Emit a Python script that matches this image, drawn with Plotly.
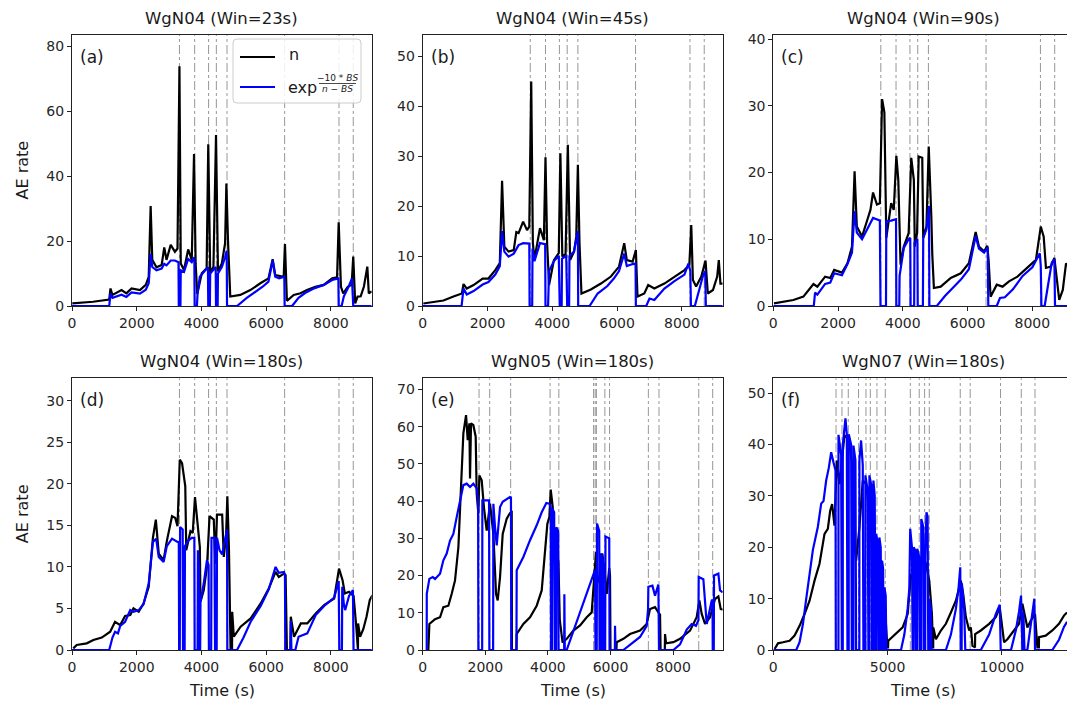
import plotly.graph_objects as go

W, H = 1067, 708

# ---------------- data ----------------
titles = ["WgN04 (Win=23s)", "WgN04 (Win=45s)", "WgN04 (Win=90s)",
          "WgN04 (Win=180s)", "WgN05 (Win=180s)", "WgN07 (Win=180s)"]
panel_tags = ["(a)", "(b)", "(c)", "(d)", "(e)", "(f)"]

x_max = [9260, 9260, 9070, 9260, 9585, 12850]
y_max = [83.4, 54.3, 40.6, 32.7, 73.0, 52.9]
y_ticks = [[0, 20, 40, 60, 80], [0, 10, 20, 30, 40, 50], [0, 10, 20, 30, 40],
           [0, 5, 10, 15, 20, 25, 30], [0, 10, 20, 30, 40, 50, 60, 70],
           [0, 10, 20, 30, 40, 50]]
x_ticks = [[0, 2000, 4000, 6000, 8000]] * 5 + [[0, 5000, 10000]]

# event times (s)
ev_wgn04 = [3320, 3790, 4220, 4460, 4790, 6570, 8250, 8690]
ev_wgn05 = [1800, 2140, 2810, 4070, 4350, 5460, 5510, 5550, 5820, 5970,
            7210, 7550, 8820, 9265]
ev_wgn07 = [2745, 3005, 3280, 3730, 4055, 4245, 4535, 4900, 5995, 6385,
            6620, 6825, 8180, 8615, 9940, 10850, 11450]

# (time, value) pairs: n series (black) and exp series (blue)
a_n = [(10, 0.8), (650, 1.3), (1150, 2.0), (1190, 5.4), (1250, 3.4), (1530, 4.9), (1680, 3.9),
       (1840, 5.4), (2100, 4.9), (2280, 6.5), (2370, 9.0), (2430, 30.8), (2480, 14.2), (2610, 11.9),
       (2770, 12.6), (2850, 18.0), (2920, 14.2), (3050, 18.8), (3180, 16.7), (3260, 17.7),
       (3320, 73.8), (3360, 13.1), (3460, 11.1), (3590, 17.4), (3700, 14.2), (3770, 46.8),
       (3820, 13.1), (3870, 3.7), (4010, 10.1), (4160, 11.6), (4210, 49.8), (4270, 10.1),
       (4370, 12.1), (4450, 52.6), (4510, 10.6), (4630, 13.1), (4730, 19.3), (4770, 37.7),
       (4820, 20.1), (4890, 2.9), (5200, 3.4), (5510, 4.9), (5820, 7.0), (6070, 8.5), (6200, 14.4),
       (6280, 9.5), (6540, 9.0), (6580, 19.1), (6640, 1.6), (6850, 3.4), (7060, 3.9), (7260, 4.9),
       (7520, 5.9), (7780, 6.5), (8040, 8.5), (8190, 8.8), (8240, 25.8), (8310, 5.9), (8380, 3.9),
       (8520, 5.9), (8640, 6.5), (8690, 15.2), (8750, 0.8), (8825, 2.9), (8920, 3.0), (9020, 6.0),
       (9125, 12.1), (9170, 3.9), (9260, 4.5)]
a_b = [(0, 0), (1150, 0), (1190, 3.9), (1250, 2.5), (1530, 3.5), (1680, 2.8), (1840, 4.2), (2100, 3.8),
       (2280, 5.0), (2370, 7.0), (2430, 16.0), (2480, 12.0), (2610, 11.0), (2770, 11.5), (2850, 13.0),
       (2920, 12.5), (3050, 14.0), (3180, 14.0), (3290, 13.5), (3300, 0), (3350, 0), (3360, 11.0),
       (3460, 10.5), (3590, 14.5), (3700, 13.5), (3780, 15.0), (3790, 0), (3860, 0), (3880, 4.0),
       (3950, 9.0), (4160, 11.5), (4200, 12.0), (4210, 0), (4260, 0), (4270, 10.0), (4370, 11.0),
       (4440, 12.0), (4450, 0), (4500, 0), (4510, 10.0), (4630, 12.0), (4730, 15.0), (4780, 17.0),
       (4790, 0), (5100, 0), (5400, 2.5), (5700, 4.5), (5900, 6.0), (6070, 7.5), (6200, 14.0),
       (6280, 9.0), (6400, 8.5), (6560, 9.0), (6570, 0), (6800, 0), (7000, 2.5), (7200, 4.0),
       (7500, 5.5), (7780, 6.5), (8040, 8.0), (8230, 8.5), (8240, 0), (8330, 0), (8400, 3.0),
       (8550, 6.0), (8650, 8.5), (8690, 0), (9260, 0)]

b_n = [(20, 0.5), (640, 1.1), (950, 1.9), (1210, 2.5), (1260, 4.4), (1360, 3.5), (1570, 4.2),
       (1850, 5.5), (2030, 5.5), (2240, 7.2), (2380, 8.6), (2450, 25.1), (2520, 11.9), (2650, 10.9),
       (2810, 11.2), (2890, 14.8), (2960, 14.6), (3100, 16.9), (3220, 15.2), (3290, 15.9),
       (3350, 45.0), (3400, 12.6), (3450, 9.4), (3620, 15.6), (3740, 13.2), (3790, 29.8),
       (3840, 12.6), (3900, 4.2), (4050, 9.2), (4200, 10.6), (4250, 30.6), (4310, 9.9), (4410, 10.4),
       (4480, 32.3), (4550, 9.2), (4670, 10.9), (4740, 13.9), (4790, 28.3), (4840, 12.6), (4900, 2.5),
       (5190, 3.3), (5500, 4.5), (5810, 5.9), (6060, 7.9), (6220, 12.6), (6300, 9.2), (6480, 8.9),
       (6580, 11.2), (6630, 1.9), (6840, 2.5), (6960, 4.2), (7150, 3.5), (7460, 4.5), (7770, 5.9),
       (8080, 7.2), (8230, 8.2), (8290, 16.2), (8340, 5.2), (8440, 3.9), (8600, 5.9), (8730, 9.1),
       (8800, 2.5), (8960, 3.2), (9090, 5.9), (9140, 9.2), (9190, 4.5), (9260, 4.5)]
b_b = [(0, 0), (1200, 0), (1260, 3.5), (1360, 2.3), (1570, 3.0), (1850, 4.3), (2030, 4.8), (2240, 6.3),
       (2380, 8.0), (2450, 15.0), (2520, 10.9), (2650, 9.9), (2810, 10.5), (2960, 12.2), (3100, 12.6),
       (3290, 12.5), (3300, 0), (3380, 0), (3390, 11.5), (3450, 9.0), (3620, 12.6), (3780, 12.4),
       (3790, 0), (3870, 0), (3900, 7.0), (4050, 9.0), (4200, 10.0), (4230, 0), (4290, 0), (4300, 9.5),
       (4430, 10.0), (4460, 0), (4520, 0), (4530, 10.0), (4670, 10.9), (4790, 15.0), (4800, 0),
       (5150, 0), (5400, 2.5), (5700, 4.0), (5900, 5.5), (6060, 7.0), (6220, 10.5), (6300, 8.0),
       (6480, 8.4), (6570, 8.5), (6580, 0), (6900, 0), (7000, 1.5), (7150, 1.2), (7460, 3.5),
       (7770, 5.0), (8080, 6.3), (8200, 8.5), (8260, 7.0), (8280, 0), (8400, 0), (8500, 2.5),
       (8650, 6.0), (8720, 7.0), (8740, 0), (9260, 0)]

c_n = [(20, 0.4), (620, 0.9), (930, 1.4), (1240, 3.3), (1360, 2.9), (1600, 4.4), (1760, 4.2),
       (1880, 5.4), (2120, 5.0), (2290, 6.4), (2430, 8.9), (2510, 20.2), (2580, 11.9), (2740, 10.4),
       (2890, 12.7), (3000, 14.4), (3080, 17.0), (3200, 15.2), (3290, 15.4), (3360, 31.0),
       (3430, 29.0), (3490, 10.2), (3640, 15.4), (3720, 14.4), (3800, 22.5), (3860, 18.9),
       (3930, 6.2), (4030, 8.9), (4180, 10.9), (4260, 22.2), (4340, 18.9), (4370, 8.9), (4440, 10.9),
       (4490, 22.4), (4600, 22.2), (4630, 10.2), (4730, 11.9), (4800, 23.9), (4880, 13.4),
       (4910, 7.7), (4960, 2.7), (5170, 2.9), (5480, 4.2), (5790, 4.9), (6040, 6.4), (6250, 11.1),
       (6350, 8.9), (6510, 8.2), (6610, 9.0), (6650, 6.8), (6710, 1.4), (6900, 3.2), (7080, 2.9),
       (7280, 3.7), (7540, 4.4), (7850, 5.7), (8110, 6.9), (8260, 11.9), (8350, 10.4), (8420, 5.7),
       (8570, 5.9), (8680, 7.2), (8760, 3.9), (8830, 0.9), (8940, 2.4), (9040, 6.4), (9100, 6.0)]
c_b = [(0, 0), (1250, 0), (1290, 2.0), (1360, 1.7), (1600, 3.3), (1760, 3.5), (1880, 4.9), (2120, 4.6),
       (2290, 6.3), (2430, 8.0), (2510, 14.2), (2580, 11.0), (2740, 10.0), (2890, 11.5), (3080, 13.2),
       (3290, 12.8), (3310, 0), (3480, 0), (3490, 12.7), (3640, 12.8), (3790, 13.0), (3800, 0),
       (3890, 0), (3900, 4.5), (4030, 8.7), (4180, 10.0), (4230, 10.2), (4240, 0), (4350, 0),
       (4360, 9.5), (4450, 10.0), (4460, 0), (4620, 0), (4630, 10.2), (4730, 11.5), (4810, 15.0),
       (4820, 0), (5050, 0), (5300, 1.5), (5600, 3.0), (5800, 4.0), (6040, 5.5), (6250, 10.5),
       (6350, 8.6), (6510, 8.0), (6620, 8.8), (6640, 0), (6900, 0), (7000, 1.2), (7150, 1.3),
       (7400, 2.5), (7700, 4.5), (8000, 5.8), (8230, 7.9), (8260, 6.0), (8280, 0), (8380, 0),
       (8480, 3.0), (8600, 6.5), (8680, 7.0), (8700, 0), (9100, 0)]

d_n = [(40, 0.2), (145, 0.6), (455, 0.8), (660, 1.2), (920, 1.5), (1180, 2.2), (1330, 3.4), (1490, 3.0),
       (1640, 4.1), (1800, 4.2), (1900, 5.0), (2060, 4.6), (2210, 5.6), (2370, 7.6), (2500, 13.5),
       (2590, 15.7), (2680, 11.6), (2830, 10.8), (2930, 13.1), (3090, 16.1), (3190, 15.9),
       (3260, 14.9), (3330, 22.9), (3400, 22.5), (3500, 19.7), (3530, 12.0), (3660, 14.3),
       (3730, 14.1), (3800, 18.4), (3880, 14.9), (3950, 12.4), (3970, 5.8), (4070, 7.2),
       (4170, 10.0), (4250, 16.1), (4380, 15.7), (4430, 10.4), (4480, 16.3), (4640, 16.3),
       (4690, 11.2), (4760, 13.7), (4800, 18.5), (4850, 12.0), (4900, 0), (4945, 0), (4950, 4.6),
       (5000, 1.6), (5210, 2.8), (5520, 3.8), (5830, 5.6), (6080, 7.4), (6290, 9.4), (6390, 8.8),
       (6550, 9.2), (6600, 9.0), (6640, 0), (6750, 0), (6760, 4.0), (6860, 1.6), (7070, 3.2),
       (7270, 3.2), (7530, 4.4), (7790, 5.4), (8100, 6.2), (8250, 9.8), (8360, 8.4), (8430, 6.8),
       (8560, 7.0), (8700, 6.5), (8780, 3.0), (8820, 0), (8835, 0), (8840, 3.2), (8900, 1.6),
       (9000, 2.5), (9100, 4.0), (9200, 6.0), (9280, 6.6)]
d_b = [(0, 0), (1150, 0), (1250, 1.5), (1330, 2.2), (1420, 2.0), (1490, 2.9), (1640, 3.4), (1800, 4.8),
       (1900, 4.6), (2060, 4.8), (2210, 5.5), (2370, 8.0), (2500, 13.0), (2600, 13.4), (2680, 11.2),
       (2830, 10.6), (2930, 12.5), (3090, 13.4), (3260, 13.0), (3300, 13.0), (3310, 0), (3330, 0),
       (3340, 14.8), (3420, 14.5), (3430, 0), (3480, 0), (3490, 12.5), (3600, 13.2), (3700, 13.5),
       (3780, 13.5), (3790, 0), (3880, 0), (3890, 12.0), (3920, 10.0), (3940, 0), (3960, 0),
       (3970, 5.8), (4070, 8.0), (4170, 10.8), (4220, 10.2), (4230, 0), (4300, 0), (4310, 13.5),
       (4400, 13.5), (4420, 0), (4470, 0), (4480, 13.5), (4560, 12.0), (4640, 11.5), (4760, 14.3),
       (4790, 14.5), (4800, 0), (5100, 0), (5300, 1.5), (5520, 3.4), (5830, 5.3), (6080, 7.3),
       (6290, 10.0), (6390, 9.3), (6550, 9.4), (6580, 9.0), (6590, 0), (6750, 0), (6760, 3.5),
       (6780, 0), (6900, 0), (7000, 1.6), (7270, 2.0), (7530, 4.2), (7790, 5.3), (8100, 6.3),
       (8240, 8.3), (8260, 0), (8340, 0), (8350, 7.6), (8400, 5.5), (8440, 4.8), (8560, 6.5),
       (8680, 7.2), (8700, 0), (9280, 0)]

e_n = [(180, 0), (213, 7.0), (394, 8.3), (554, 8.8), (660, 11.5), (820, 11.9), (927, 15.1),
       (1033, 18.7), (1140, 27.6), (1214, 42.9), (1299, 58.2), (1385, 63.1), (1438, 56.4),
       (1491, 60.9), (1512, 46.1), (1544, 60.9), (1619, 60.4), (1693, 57.3), (1725, 42.0),
       (1779, 36.6), (1811, 46.9), (1885, 45.6), (1960, 38.0), (2045, 32.1), (2151, 39.3),
       (2258, 31.2), (2343, 15.1), (2396, 13.3), (2471, 19.6), (2556, 31.2), (2684, 35.3),
       (2790, 36.8), (2844, 37.0), (2850, 0), (2995, 0), (3003, 4.3), (3216, 7.0), (3429, 8.8),
       (3642, 11.9), (3802, 16.0), (3909, 27.6), (3983, 33.9), (4047, 35.7), (4090, 43.1),
       (4154, 38.4), (4207, 24.1), (4281, 25.0), (4335, 24.0), (4380, 8.0), (4470, 2.0),
       (4601, 3.0), (4814, 5.2), (5028, 6.6), (5241, 8.8), (5400, 10.1), (5506, 22.3), (5538, 26.3),
       (5591, 19.6), (5666, 17.8), (5740, 25.9), (5804, 21.8), (5879, 15.1), (5960, 22.0),
       (5985, 20.0), (6000, 0), (6190, 0), (6198, 2.1), (6411, 3.0), (6624, 4.3), (6944, 5.2),
       (7157, 7.0), (7263, 11.0), (7423, 11.5), (7530, 10.1), (7583, 9.5), (7600, 0), (7735, 0),
       (7743, 4.3), (7775, 1.8), (8009, 2.1), (8222, 3.0), (8541, 5.2), (8754, 8.8), (8840, 13.3),
       (8914, 9.7), (9021, 7.0), (9180, 8.8), (9340, 13.7), (9447, 14.4), (9521, 11.0), (9585, 10.8)]
e_b = [(128, 0), (130, 15.1), (213, 19.1), (320, 19.6), (394, 19.1), (554, 20.5), (660, 24.1),
       (767, 25.9), (873, 29.4), (980, 31.2), (1086, 35.7), (1193, 40.2), (1299, 44.3), (1406, 44.7),
       (1512, 43.8), (1619, 44.7), (1725, 43.4), (1770, 40.0), (1779, 0), (1900, 0), (1906, 40.2),
       (2120, 40.2), (2130, 0), (2250, 0), (2258, 39.3), (2311, 33.0), (2365, 28.1), (2471, 38.4),
       (2556, 39.8), (2790, 41.1), (2820, 41.0), (2830, 0), (2995, 0), (3003, 21.4), (3216, 25.0),
       (3429, 29.5), (3642, 33.5), (3802, 37.0), (3950, 39.5), (4047, 39.3), (4090, 38.5),
       (4100, 0), (4130, 0), (4140, 38.0), (4200, 37.0), (4220, 0), (4260, 0), (4270, 33.0),
       (4330, 32.0), (4340, 0), (4520, 0), (4526, 15.0), (4540, 0), (4600, 0), (4814, 5.0),
       (5028, 10.0), (5241, 15.0), (5400, 19.0), (5506, 21.5), (5520, 0), (5560, 0), (5570, 34.0),
       (5640, 32.0), (5650, 0), (5700, 0), (5710, 26.0), (5760, 24.0), (5770, 0), (5830, 0),
       (5840, 30.5), (5960, 30.0), (5970, 0), (6140, 0), (6145, 6.5), (6160, 0), (6411, 0),
       (6944, 3.5), (7157, 6.5), (7200, 11.0), (7210, 17.0), (7340, 17.3), (7423, 14.6),
       (7530, 17.6), (7550, 0), (8009, 0), (8222, 1.5), (8435, 5.5), (8594, 7.0), (8732, 6.5),
       (8810, 8.0), (8818, 19.6), (8967, 19.0), (9074, 7.0), (9234, 13.3), (9260, 13.5), (9266, 0),
       (9300, 0), (9308, 20.0), (9447, 20.5), (9500, 16.0), (9585, 15.5)]

f_n = [(58, 0.2), (204, 1.3), (422, 1.5), (713, 1.8), (931, 2.8), (1150, 4.7), (1368, 7.0),
       (1586, 9.6), (1804, 13.5), (2022, 16.8), (2241, 22.6), (2386, 23.6), (2488, 27.1),
       (2575, 28.4), (2677, 24.2), (2779, 36.9), (2896, 32.3), (2998, 36.9), (3114, 41.8),
       (3216, 41.4), (3332, 40.1), (3449, 36.2), (3521, 21.9), (3623, 17.4), (3768, 23.9),
       (3914, 33.0), (4059, 32.3), (4205, 27.1), (4350, 22.6), (4496, 16.1), (4641, 11.6),
       (4787, 9.0), (4903, 7.0), (4990, 0.5), (5020, 0.5), (5030, 1.8), (5369, 3.1), (5660, 4.4),
       (5878, 7.0), (6024, 14.8), (6126, 13.5), (6242, 11.6), (6359, 14.2), (6460, 16.8),
       (6562, 18.1), (6678, 16.8), (6824, 13.5), (6940, 7.0), (6985, 0.5), (6995, 0.5), (7000, 4.4),
       (7115, 2.1), (7333, 3.8), (7551, 5.1), (7770, 7.3), (7988, 9.6), (8104, 11.6), (8206, 13.5),
       (8308, 10.9), (8424, 6.4), (8570, 3.8), (8643, 4.4), (8715, 0.8), (8825, 0.5), (8832, 3.1),
       (9079, 3.8), (9443, 5.1), (9734, 6.4), (9908, 8.3), (9996, 5.1), (10098, 1.5),
       (10243, 2.1), (10534, 3.8), (10752, 5.1), (10898, 9.0), (11000, 6.7), (11116, 4.4),
       (11262, 5.7), (11451, 7.0), (11553, 0.5), (11620, 0.5), (11626, 2.5), (11917, 2.8),
       (12208, 3.8), (12499, 5.1), (12717, 6.7), (12850, 7.3)]
f_b = [(0, 0), (1004, 0), (1150, 1.5), (1295, 5.0), (1441, 10.0), (1586, 15.0), (1732, 19.5),
       (1950, 24.0), (2095, 28.5), (2197, 29.0), (2313, 33.0), (2430, 35.5), (2532, 38.5),
       (2634, 36.5), (2721, 35.0), (2735, 0), (2850, 0), (2852, 41.9), (2968, 38.0), (2997, 0),
       (3040, 0), (3041, 40.0), (3157, 45.1), (3216, 42.0), (3245, 0), (3300, 0), (3303, 42.0),
       (3405, 40.0), (3434, 0), (3505, 0), (3507, 39.8), (3594, 37.0), (3623, 0), (3765, 0),
       (3768, 37.0), (3841, 40.8), (3914, 36.0), (3943, 0), (4028, 0), (4030, 34.0), (4132, 31.0),
       (4161, 0), (4203, 0), (4205, 34.0), (4292, 32.0), (4321, 0), (4378, 0), (4380, 33.0),
       (4438, 30.0), (4467, 0), (4494, 0), (4496, 22.6), (4569, 21.0), (4598, 0), (4639, 0),
       (4641, 21.9), (4700, 20.0), (4729, 0), (4756, 0), (4758, 17.4), (4802, 16.0), (4831, 0),
       (4858, 0), (4860, 12.2), (4918, 10.6), (4947, 0), (5587, 0), (5733, 3.0), (5878, 8.0),
       (5951, 12.0), (5990, 23.6), (6067, 20.0), (6096, 0), (6138, 0), (6140, 20.0), (6213, 19.4),
       (6242, 0), (6298, 0), (6300, 19.7), (6387, 18.0), (6417, 0), (6473, 0), (6475, 25.5),
       (6562, 24.0), (6591, 0), (6647, 0), (6649, 18.0), (6700, 26.8), (6751, 26.0), (6780, 0),
       (6824, 0), (6826, 10.0), (6897, 8.0), (6920, 0), (7551, 0), (7770, 3.0), (7988, 8.0),
       (8104, 12.0), (8180, 16.1), (8200, 0), (8240, 0), (8250, 13.0), (8350, 8.0), (8400, 0),
       (9079, 0), (9443, 3.0), (9734, 7.0), (9908, 8.8), (9950, 0), (10400, 0), (10620, 4.0),
       (10752, 7.5), (10840, 10.6), (10898, 0), (10930, 0), (10940, 7.5), (10990, 0), (11116, 0),
       (11262, 5.0), (11420, 10.0), (11451, 0), (12208, 0), (12499, 2.0), (12717, 4.5),
       (12850, 5.5)]

series_n = [a_n, b_n, c_n, d_n, e_n, f_n]
series_b = [a_b, b_b, c_b, d_b, e_b, f_b]
events = [ev_wgn04, ev_wgn04, ev_wgn04, ev_wgn04, ev_wgn05, ev_wgn07]

# ---------------- layout geometry (pixels) ----------------
cols_px = [(72.0, 371.7), (422.7, 722.7), (773.3, 1067.0)]
col_centers = [221.9, 572.7, 923.0]
rows_px = [(35.0, 306.0), (378.3, 650.0)]
FONT = "DejaVu Sans"


def fx(p):
    return p / W


def fy(p):
    return 1 - p / H


fig = go.Figure()
layout = dict(width=W, height=H, margin=dict(l=0, r=0, t=0, b=0, pad=0),
              paper_bgcolor="white", plot_bgcolor="white", showlegend=False,
              hovermode=False, font=dict(family=FONT, color="#1a1a1a"))
shapes = []
annotations = []

for i in range(6):
    r, c = divmod(i, 3)
    sfx = "" if i == 0 else str(i + 1)
    xa, ya = "x" + sfx, "y" + sfx
    x0p, x1p = cols_px[c]
    y0p, y1p = rows_px[r]
    cropped = (c == 2)
    layout["xaxis" + sfx] = dict(
        domain=[fx(x0p), min(1.0, fx(x1p))], anchor=ya, range=[0, x_max[i]],
        tickvals=x_ticks[i], ticktext=[str(v) for v in x_ticks[i]], automargin=False,
        showline=True, linecolor="#222", linewidth=1, mirror=True,
        ticks="outside", ticklen=4, tickcolor="#222", showgrid=False, zeroline=False,
        tickfont=dict(size=14, family=FONT, color="#262626"))
    layout["yaxis" + sfx] = dict(
        domain=[fy(y1p), fy(y0p)], anchor=xa, range=[0, y_max[i]],
        tickvals=y_ticks[i], ticktext=[str(v) for v in y_ticks[i]], automargin=False,
        showline=True, linecolor="#222", linewidth=1, mirror=(not cropped),
        ticks="outside", ticklen=4, tickcolor="#222", showgrid=False, zeroline=False,
        tickfont=dict(size=14, family=FONT, color="#262626"))

    tn = [p[0] for p in series_n[i]]
    vn = [p[1] for p in series_n[i]]
    tb = [p[0] for p in series_b[i]]
    vb = [p[1] for p in series_b[i]]
    fig.add_trace(go.Scatter(x=tn, y=vn, mode="lines", xaxis=xa, yaxis=ya,
                             line=dict(color="black", width=2.2), hoverinfo="skip"))
    fig.add_trace(go.Scatter(x=tb, y=vb, mode="lines", xaxis=xa, yaxis=ya,
                             line=dict(color="#0000ff", width=2.2), hoverinfo="skip"))

    for t in events[i]:
        shapes.append(dict(type="line", xref=xa, yref=ya + " domain", x0=t, x1=t, y0=0, y1=1,
                           line=dict(color="rgba(110,110,110,0.9)", width=0.8, dash="dashdot"),
                           layer="below"))

    # title
    ty = 18 if r == 0 else 361
    annotations.append(dict(text=titles[i], xref="paper", yref="paper", x=fx(col_centers[c]),
                            y=fy(ty), showarrow=False, xanchor="center", yanchor="middle",
                            font=dict(size=16.5, family=FONT, color="#1a1a1a")))
    # panel tag
    annotations.append(dict(text=panel_tags[i], xref="paper", yref="paper", x=fx(x0p + 6),
                            y=fy(y0p + 22), showarrow=False, xanchor="left", yanchor="middle",
                            font=dict(size=17, family=FONT, color="#1a1a1a")))
    if c == 0:
        annotations.append(dict(text="AE rate", xref="paper", yref="paper", x=fx(22),
                                y=fy((y0p + y1p) / 2), showarrow=False, textangle=-90,
                                xanchor="center", yanchor="middle",
                                font=dict(size=16, family=FONT, color="#1a1a1a")))
    if r == 1:
        annotations.append(dict(text="Time (s)", xref="paper", yref="paper", x=fx(col_centers[c]),
                                y=fy(690), showarrow=False, xanchor="center", yanchor="middle",
                                font=dict(size=16, family=FONT, color="#1a1a1a")))

# ---------------- hand-built legend in panel (a) ----------------
lx0, lx1, ly0, ly1, rad = 233.0, 361.0, 39.0, 103.0, 4.0
path = (f"M {fx(lx0 + rad)},{fy(ly0)} L {fx(lx1 - rad)},{fy(ly0)} "
        f"Q {fx(lx1)},{fy(ly0)} {fx(lx1)},{fy(ly0 + rad)} L {fx(lx1)},{fy(ly1 - rad)} "
        f"Q {fx(lx1)},{fy(ly1)} {fx(lx1 - rad)},{fy(ly1)} L {fx(lx0 + rad)},{fy(ly1)} "
        f"Q {fx(lx0)},{fy(ly1)} {fx(lx0)},{fy(ly1 - rad)} L {fx(lx0)},{fy(ly0 + rad)} "
        f"Q {fx(lx0)},{fy(ly0)} {fx(lx0 + rad)},{fy(ly0)} Z")
shapes.append(dict(type="path", xref="paper", yref="paper", path=path,
                   fillcolor="rgba(255,255,255,0.85)", line=dict(color="#cccccc", width=1),
                   layer="above"))
shapes.append(dict(type="line", xref="paper", yref="paper", x0=fx(240), x1=fx(275),
                   y0=fy(57), y1=fy(57), line=dict(color="black", width=2.2)))
shapes.append(dict(type="line", xref="paper", yref="paper", x0=fx(240), x1=fx(275),
                   y0=fy(87), y1=fy(87), line=dict(color="#0000ff", width=2.2)))
shapes.append(dict(type="line", xref="paper", yref="paper", x0=fx(319), x1=fx(356),
                   y0=fy(83.5), y1=fy(83.5), line=dict(color="#1a1a1a", width=0.8)))
annotations.append(dict(text="n", xref="paper", yref="paper", x=fx(287), y=fy(55),
                        showarrow=False, xanchor="left", yanchor="middle",
                        font=dict(size=16, family=FONT, color="#1a1a1a")))
annotations.append(dict(text="exp", xref="paper", yref="paper", x=fx(286), y=fy(87),
                        showarrow=False, xanchor="left", yanchor="middle",
                        font=dict(size=16, family=FONT, color="#1a1a1a")))
annotations.append(dict(text="−10 * <i>BS</i>", xref="paper", yref="paper", x=fx(337.5),
                        y=fy(77.5), showarrow=False, xanchor="center", yanchor="middle",
                        font=dict(size=9, family=FONT, color="#1a1a1a")))
annotations.append(dict(text="<i>n</i> − <i>BS</i>", xref="paper", yref="paper", x=fx(337.5),
                        y=fy(89.5), showarrow=False, xanchor="center", yanchor="middle",
                        font=dict(size=9, family=FONT, color="#1a1a1a")))

layout["shapes"] = shapes
layout["annotations"] = annotations
fig.update_layout(**layout)
fig.write_html("out.html", config={"displayModeBar": False, "staticPlot": True},
               post_script="document.body.style.margin='0px';document.body.style.overflow='hidden';")
